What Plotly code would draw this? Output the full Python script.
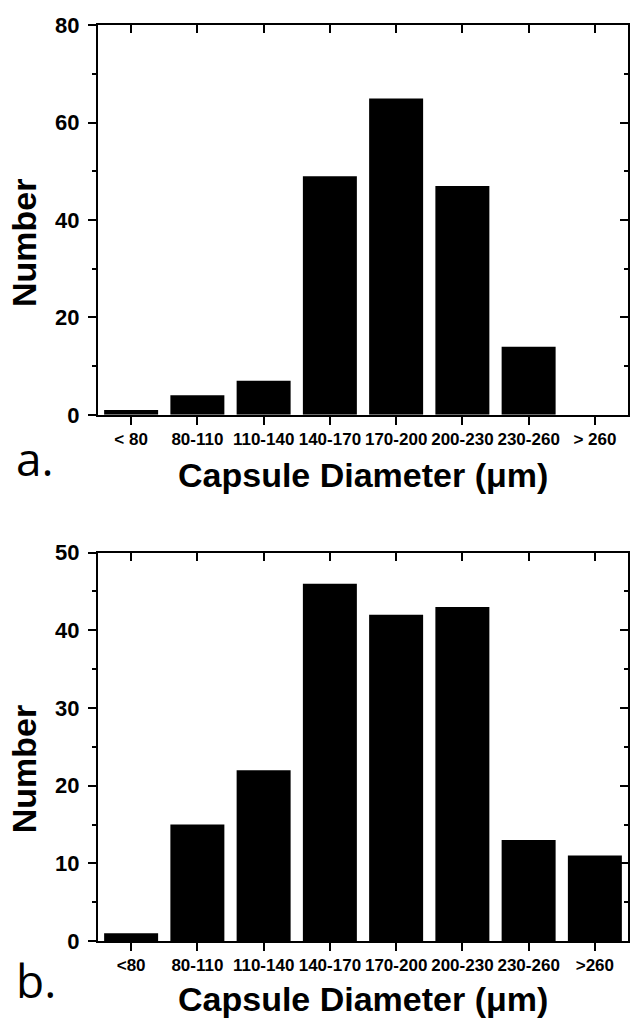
import plotly.graph_objects as go

# ---- data ----
categories_a = ["< 80", "80-110", "110-140", "140-170", "170-200", "200-230", "230-260", "> 260"]
counts_a = [1, 4, 7, 49, 65, 47, 14, 0]

categories_b = ["<80", "80-110", "110-140", "140-170", "170-200", "200-230", "230-260", ">260"]
counts_b = [1, 15, 22, 46, 42, 43, 13, 11]

x_title = "Capsule Diameter (μm)"
y_title = "Number"

W, H = 630, 1025

# the photographed page is slightly squeezed vertically; compensate
V_OFF, V_SCALE = 11.6, 0.977


def px(x):
    return x / W


def py(y):
    y_set = (y - V_OFF) / V_SCALE
    return 1 - y_set / H


FONT = "Liberation Sans, Arial, Helvetica, sans-serif"

fig = go.Figure()

# main bars
fig.add_trace(go.Bar(x=categories_a, y=counts_a, xaxis="x", yaxis="y",
                     marker=dict(color="black", line=dict(width=0)),
                     showlegend=False, hoverinfo="skip"))
fig.add_trace(go.Bar(x=categories_b, y=counts_b, xaxis="x3", yaxis="y3",
                     marker=dict(color="black", line=dict(width=0)),
                     showlegend=False, hoverinfo="skip"))
# invisible traces so the mirror (top/right) axes are drawn
fig.add_trace(go.Scatter(x=categories_a, y=counts_a, xaxis="x2", yaxis="y2", mode="markers",
                         marker=dict(opacity=0), showlegend=False, hoverinfo="skip"))
fig.add_trace(go.Scatter(x=categories_b, y=counts_b, xaxis="x4", yaxis="y4", mode="markers",
                         marker=dict(opacity=0), showlegend=False, hoverinfo="skip"))

dom_x = [px(98), px(628)]
dom_ya = [py(415), py(25)]
dom_yb = [py(942), py(553)]

common_line = dict(showline=True, linecolor="black", linewidth=2, showgrid=False, zeroline=False,
                   tickcolor="black", tickwidth=2, fixedrange=True)


def xax(cats, domain, anchor, side, ticks, show_labels, overlaying=None):
    d = dict(common_line, type="category", categoryorder="array", categoryarray=cats,
             range=[-0.5, 7.5], domain=domain, anchor=anchor, side=side, ticks=ticks, ticklen=8,
             showticklabels=show_labels,
             tickfont=dict(family=FONT, size=17, color="black", weight="bold"))
    if overlaying:
        d["overlaying"] = overlaying
    return d


def yax(rng, dtick, domain, anchor, side, ticks, show_labels, overlaying=None):
    d = dict(common_line, range=rng, dtick=dtick, tick0=0, domain=domain, anchor=anchor, side=side,
             ticks=ticks, ticklen=8, showticklabels=show_labels, ticklabelstandoff=4,
             tickfont=dict(family=FONT, size=22, color="black", weight="bold"),
             minor=dict(ticks=ticks, ticklen=4, tickwidth=2, tickcolor="black", dtick=dtick / 2,
                        showgrid=False))
    if overlaying:
        d["overlaying"] = overlaying
    return d


fig.update_layout(
    width=W, height=H,
    margin=dict(l=0, r=0, t=0, b=0),
    paper_bgcolor="white", plot_bgcolor="white",
    bargap=0.185,
    xaxis=xax(categories_a, dom_x, "y", "bottom", "outside", True),
    xaxis2=xax(categories_a, dom_x, "y", "top", "inside", False, overlaying="x"),
    yaxis=yax([0, 80], 20, dom_ya, "x", "left", "outside", True),
    yaxis2=yax([0, 80], 20, dom_ya, "x", "right", "inside", False, overlaying="y"),
    xaxis3=xax(categories_b, dom_x, "y3", "bottom", "outside", True),
    xaxis4=xax(categories_b, dom_x, "y3", "top", "inside", False, overlaying="x3"),
    yaxis3=yax([0, 50], 10, dom_yb, "x3", "left", "outside", True),
    yaxis4=yax([0, 50], 10, dom_yb, "x3", "right", "inside", False, overlaying="y3"),
)

title_font = dict(family=FONT, size=34, color="black", weight="bold")
label_font = dict(family="Open Sans, Noto Sans, sans-serif", size=46, color="black")

annotations = [
    dict(text=x_title, x=px(363), y=py(475.6), xref="paper", yref="paper",
         xanchor="center", yanchor="middle", showarrow=False, font=title_font),
    dict(text=x_title, x=px(363), y=py(999.6), xref="paper", yref="paper",
         xanchor="center", yanchor="middle", showarrow=False, font=title_font),
    dict(text=y_title, x=px(24), y=py(243), xref="paper", yref="paper", textangle=-90,
         xanchor="center", yanchor="middle", showarrow=False, font=title_font),
    dict(text=y_title, x=px(24), y=py(770), xref="paper", yref="paper", textangle=-90,
         xanchor="center", yanchor="middle", showarrow=False, font=title_font),
    dict(text="a.", x=px(14), y=py(458), xref="paper", yref="paper",
         xanchor="left", yanchor="middle", showarrow=False, font=label_font),
    dict(text="b.", x=px(14), y=py(981), xref="paper", yref="paper",
         xanchor="left", yanchor="middle", showarrow=False, font=label_font),
]
fig.update_layout(annotations=annotations)

fig.write_html("out.html", post_script="document.body.style.margin='0';",
               config={"displayModeBar": False})
